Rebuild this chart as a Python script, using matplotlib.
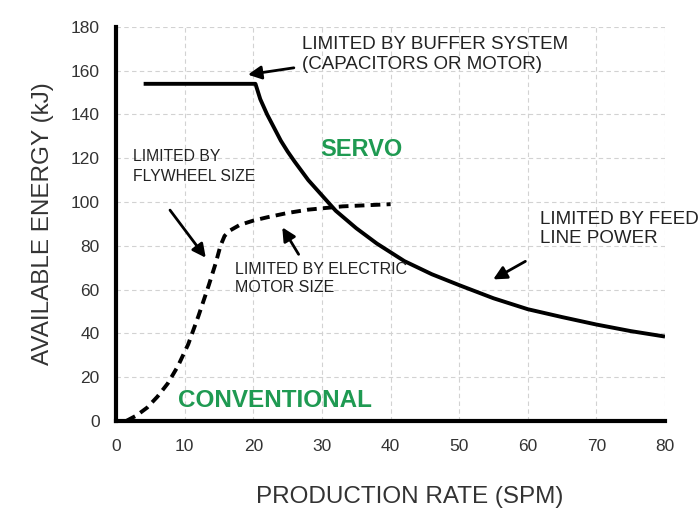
import matplotlib.pyplot as plt

plt.rcParams['font.family'] = ['Liberation Sans', 'DejaVu Sans']

# servo curve (solid): flat buffer limit then feed-line power limit
servo_x = [4, 20.3, 21, 22, 23, 24, 25, 26, 28, 30, 32, 35, 38, 42, 46, 50, 55, 60, 65, 70, 75, 80]
servo_y = [154, 154, 147, 140, 134, 128, 123, 118.5, 110, 103, 96, 88, 81, 73, 67, 62, 56, 51, 47.4, 44, 41, 38.5]

# conventional curve (dashed)
conv_x = [1.5, 3, 4.5, 6, 7.5, 9, 10.5, 12, 13.5, 14.5, 15.2, 15.8, 16.6, 18, 20, 22, 25, 28, 33, 40]
conv_y = [0, 2.5, 6, 11, 17, 25, 35, 48, 62, 72, 80, 84.5, 87, 89.5, 91.5, 93, 95, 96.5, 98, 99]

x_ticks = [0, 10, 20, 30, 40, 50, 60, 70, 80]
y_ticks = [0, 20, 40, 60, 80, 100, 120, 140, 160, 180]

green = '#1f9a52'
gray = '#333333'

fig = plt.figure(figsize=(7, 5.28), dpi=100)
ax = fig.add_axes([0.166, 0.203, 0.784, 0.746])

ax.plot(servo_x, servo_y, color='black', lw=2.8, solid_capstyle='butt')
ax.plot(conv_x, conv_y, color='black', lw=2.8, linestyle=(0, (2.5, 1.6)))

ax.set_xlim(0, 80)
ax.set_ylim(0, 180)
ax.set_xticks(x_ticks)
ax.set_yticks(y_ticks)
ax.tick_params(length=0, labelsize=12.5, labelcolor=gray)
ax.tick_params(axis='x', pad=13)
ax.tick_params(axis='y', pad=12)
ax.grid(True, linestyle=(0, (4, 3)), color='#d2d2d2', lw=0.8)
ax.set_axisbelow(True)

for s in ['top', 'right']:
    ax.spines[s].set_visible(False)
for s in ['left', 'bottom']:
    ax.spines[s].set_linewidth(3)

ax.set_xlabel('PRODUCTION RATE (SPM)', fontsize=17.5, color=gray)
ax.xaxis.set_label_coords(0.534, -0.165)
ax.set_ylabel('AVAILABLE ENERGY (kJ)', fontsize=17.5, color=gray, labelpad=12)

arrow = dict(arrowstyle='-|>', color='black', lw=2, mutation_scale=20)

ax.annotate('', xy=(18.8, 158), xytext=(26.3, 161.5), arrowprops=arrow)
ax.text(27.1, 176, 'LIMITED BY BUFFER SYSTEM\n(CAPACITORS OR MOTOR)', fontsize=13.5, color='#222222',
        va='top', ha='left', linespacing=1.25)
ax.annotate('', xy=(13.3, 73.5), xytext=(7.6, 97.3), arrowprops=arrow)
ax.text(2.5, 124, 'LIMITED BY\nFLYWHEEL SIZE', fontsize=11.3, color='#222222', va='top', linespacing=1.35)
ax.annotate('', xy=(24, 89.5), xytext=(26.8, 75), arrowprops=arrow)
ax.text(17.3, 72.5, 'LIMITED BY ELECTRIC\nMOTOR SIZE', fontsize=11.5, color='#222222', va='top', linespacing=1.2)
ax.annotate('', xy=(54.6, 64), xytext=(60, 73.5), arrowprops=arrow)
ax.text(61.8, 96, 'LIMITED BY FEED\nLINE POWER', fontsize=13.5, color='#222222', va='top',
        linespacing=1.2, clip_on=False)

ax.text(29.7, 123.8, 'SERVO', fontsize=17, fontweight='bold', color=green, va='center')
ax.text(9.0, 9.1, 'CONVENTIONAL', fontsize=17.5, fontweight='bold', color=green, va='center')

fig.savefig('out.png', dpi=100)
